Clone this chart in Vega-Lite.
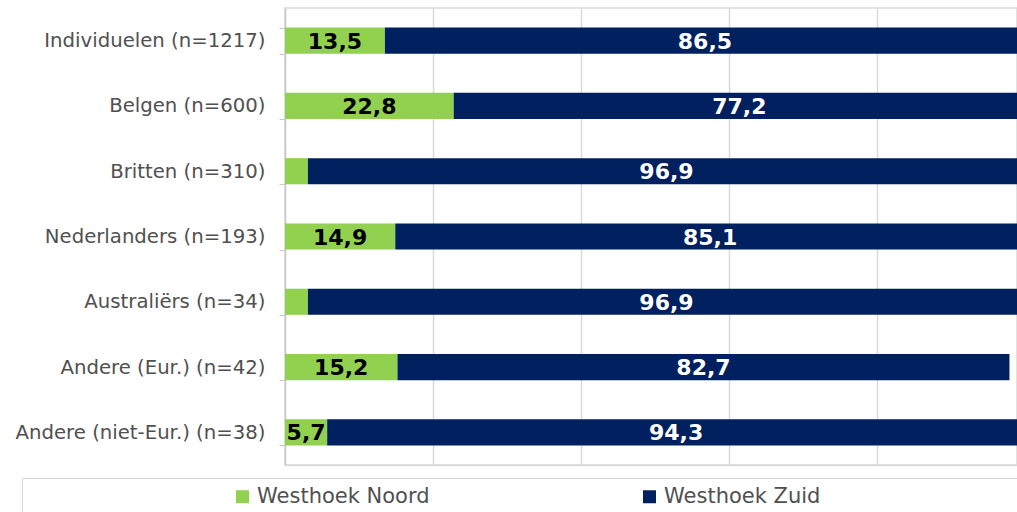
{
  "$schema": "https://vega.github.io/schema/vega-lite/v6.json",
  "autosize": {"type": "none"},
  "width": 732,
  "height": 457,
  "padding": {"left": 285, "top": 8, "right": 0, "bottom": 47},
  "background": "white",
  "config": {
    "view": {"stroke": "#d9d9d9", "strokeWidth": 1.5},
    "locale": {"number": {"decimal": ",", "thousands": ".", "grouping": [3], "currency": ["€", ""]}},
    "font": "DejaVu Sans"
  },
  "data": {
    "values": [
      {"group": "Individuelen (n=1217)", "series": "Westhoek Noord", "value": 13.5},
      {"group": "Individuelen (n=1217)", "series": "Westhoek Zuid", "value": 86.5},
      {"group": "Belgen (n=600)", "series": "Westhoek Noord", "value": 22.8},
      {"group": "Belgen (n=600)", "series": "Westhoek Zuid", "value": 77.2},
      {"group": "Britten (n=310)", "series": "Westhoek Noord", "value": 3.1},
      {"group": "Britten (n=310)", "series": "Westhoek Zuid", "value": 96.9},
      {"group": "Nederlanders (n=193)", "series": "Westhoek Noord", "value": 14.9},
      {"group": "Nederlanders (n=193)", "series": "Westhoek Zuid", "value": 85.1},
      {"group": "Australiërs (n=34)", "series": "Westhoek Noord", "value": 3.1},
      {"group": "Australiërs (n=34)", "series": "Westhoek Zuid", "value": 96.9},
      {"group": "Andere (Eur.) (n=42)", "series": "Westhoek Noord", "value": 15.2},
      {"group": "Andere (Eur.) (n=42)", "series": "Westhoek Zuid", "value": 82.7},
      {"group": "Andere (niet-Eur.) (n=38)", "series": "Westhoek Noord", "value": 5.7},
      {"group": "Andere (niet-Eur.) (n=38)", "series": "Westhoek Zuid", "value": 94.3}
    ]
  },
  "transform": [
    {"stack": "value", "groupby": ["group"], "sort": [{"field": "series", "order": "ascending"}], "as": ["v0", "v1"]},
    {"calculate": "(datum.v0 + datum.v1) / 2", "as": "mid"}
  ],
  "encoding": {
    "y": {
      "field": "group",
      "type": "nominal",
      "sort": null,
      "scale": {"paddingInner": 0.6, "paddingOuter": 0.3},
      "axis": {
        "title": null,
        "labelFontSize": 19.7,
        "labelColor": "#505050",
        "labelPadding": 14,
        "tickBand": "extent",
        "tickSize": 6,
        "tickColor": "#c8c8c8",
        "domainColor": "#c8c8c8",
        "domainWidth": 1.5,
        "labelLimit": 400
      }
    }
  },
  "layer": [
    {
      "mark": {"type": "bar", "clip": true},
      "encoding": {
        "x": {
          "field": "v0",
          "type": "quantitative",
          "scale": {"domain": [0, 98.92], "nice": false, "zero": true},
          "axis": {
            "title": null,
            "labels": false,
            "ticks": false,
            "grid": true,
            "gridColor": "#d9d9d9",
            "gridWidth": 1.5,
            "values": [20, 40, 60, 80],
            "domainColor": "#d9d9d9",
            "domainWidth": 1.5
          }
        },
        "x2": {"field": "v1"},
        "color": {
          "field": "series",
          "type": "nominal",
          "scale": {"domain": ["Westhoek Noord", "Westhoek Zuid"], "range": ["#92D050", "#002060"]},
          "legend": {
            "title": " ",
            "titleOrient": "right",
            "titlePadding": 190,
            "orient": "none",
            "direction": "horizontal",
            "legendX": -263,
            "legendY": 470,
            "padding": 8,
            "strokeColor": "#d9d9d9",
            "symbolType": "square",
            "symbolSize": 169,
            "symbolStrokeWidth": 0,
            "symbolOffset": 202,
            "labelFontSize": 21,
            "labelColor": "#505050",
            "labelOffset": 4,
            "labelLimit": 400,
            "columnPadding": 7
          }
        }
      }
    },
    {
      "transform": [{"filter": "datum.value >= 5"}],
      "mark": {"type": "text", "font": "DejaVu Sans", "fontWeight": "bold", "fontSize": 22, "align": "center", "baseline": "middle", "dy": 1},
      "encoding": {
        "x": {"field": "mid", "type": "quantitative"},
        "text": {"field": "value", "type": "quantitative", "format": ".1f"},
        "color": {"condition": {"test": "datum.series === 'Westhoek Noord'", "value": "black"}, "value": "white"}
      }
    }
  ]
}
